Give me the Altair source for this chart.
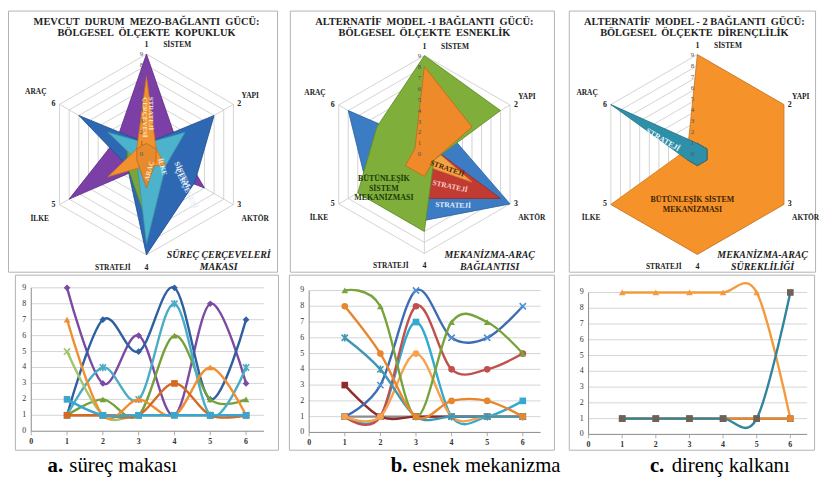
import altair as alt
import pandas as pd

FONT = "Liberation Serif"
NB = "\u00a0"

# ---------------- data ----------------
AXES = ["SİSTEM", "YAPI", "AKTÖR", "STRATEJİ", "İLKE", "ARAÇ"]
AXIS_NUMBERS = ["1", "2", "3", "4", "5", "6"]
SCALE_TICKS = [0, 1, 2, 3, 4, 5, 6, 7, 8, 9]
RING_LEVELS = [1, 2, 3, 4, 5, 6, 7, 8, 9]
X_TICKS = [0, 1, 2, 3, 4, 5, 6]

# a. süreç makası
A_NAMES = ["gri", "mor", "lacivert", "yeşil", "turkuaz", "açık yeşil", "turuncu", "koyu turuncu", "açık mavi"]
A_GRI = [1, 1, 1, 1, 1, 1]
A_MOR = [9, 3, 6, 1, 8, 3]
A_LACIVERT = [1, 7, 5, 9, 2, 7]
A_YESIL = [1, 2, 1, 6, 2, 2]
A_TURKUAZ = [1, 4, 2, 8, 1, 4]
A_ACIK_YESIL = [5, 1, 1, 1, 1, 1]
A_TURUNCU = [7, 1, 2, 1, 4, 1]
A_KOYU_TURUNCU = [1, 1, 1, 3, 1, 1]
A_ACIK_MAVI = [2, 1, 1, 1, 1, 1]
A_VALUES = [A_GRI, A_MOR, A_LACIVERT, A_YESIL, A_TURKUAZ, A_ACIK_YESIL, A_TURUNCU, A_KOYU_TURUNCU, A_ACIK_MAVI]

# b. esnek mekanizma
B_NAMES = ["gri", "bordo", "camgöbeği", "mavi", "kırmızı", "açık turuncu", "turkuaz", "yeşil", "turuncu"]
B_GRI = [1, 1, 1, 1, 1, 1]
B_BORDO = [3, 1, 1, 1, 1, 1]
B_CAMGOBEGI = [1, 1, 7, 1, 1, 2]
B_MAVI = [1, 3, 9, 6, 6, 8]
B_KIRMIZI = [1, 1, 8, 4, 4, 5]
B_ACIK_TURUNCU = [1, 1, 5, 1, 1, 1]
B_TURKUAZ = [6, 4, 1, 1, 1, 1]
B_YESIL = [9, 8, 1, 7, 7, 5]
B_TURUNCU = [8, 5, 1, 2, 2, 1]
B_VALUES = [B_GRI, B_BORDO, B_CAMGOBEGI, B_MAVI, B_KIRMIZI, B_ACIK_TURUNCU, B_TURKUAZ, B_YESIL, B_TURUNCU]

# c. direnç kalkanı
C_NAMES = ["turuncu", "kahverengi", "daire", "turkuaz"]
C_TURUNCU = [9, 9, 9, 9, 9, 1]
C_KAHVERENGI = [1, 1, 1, 1, 1, 1]
C_DAIRE = [1, 1, 1, 1, 1, 1]
C_TURKUAZ = [1, 1, 1, 1, 1, 9]
C_VALUES = [C_TURUNCU, C_KAHVERENGI, C_DAIRE, C_TURKUAZ]


def long_df(names, values):
    rows = []
    for n, vals in zip(names, values):
        for i, v in enumerate(vals):
            rows.append({"seri": n, "i": i, "x": i + 1, "v": v})
    return pd.DataFrame(rows)


ONE = pd.DataFrame({"k": [0]})
POLAR = dict(px="datum.v * sin(datum.i * PI / 3)", py="datum.v * cos(datum.i * PI / 3)")

NUM_OFF = [(0, -9), (6, 0), (6, 0), (0, 13), (-6, 0), (-6, 0)]
NAME_OFF = [(31, -9), (17, -8), (22, 14), (-34, 13), (-20, 14), (-24, -12)]


def box_layer(x1, x2, y1, y2):
    return alt.Chart(ONE).mark_rect(fill="white", stroke="#b3b3b3", strokeWidth=1).encode(
        x=alt.value(x1), x2=alt.value(x2), y=alt.value(y1), y2=alt.value(y2))


def text_layer(t, x, y, size=8, weight="bold", color="#222", angle=0, style="normal", align="center",
               baseline="middle"):
    return alt.Chart(ONE).mark_text(text=t, font=FONT, fontSize=size, fontWeight=weight, color=color,
                                    angle=angle, fontStyle=style, align=align, baseline=baseline).encode(
        x=alt.value(x), y=alt.value(y))


def radar_panel(df, order, fills, strokes, W, H, cx, cy, R, box, titles, tx, corner, corner_x, inner):
    sx = alt.Scale(domain=[-9, 9], range=[cx - R, cx + R], nice=False, zero=False)
    sy = alt.Scale(domain=[-9, 9], range=[cy + R, cy - R], nice=False, zero=False)
    X = alt.X("px:Q", scale=sx, axis=None)
    Y = alt.Y("py:Q", scale=sy, axis=None)
    layers = [box_layer(*box)]
    rings = pd.DataFrame([{"lvl": l, "i": i, "v": l} for l in RING_LEVELS for i in range(6)])
    layers.append(alt.Chart(rings).transform_calculate(**POLAR).mark_line(
        stroke="#c8c8c8", strokeWidth=0.8, interpolate="linear-closed").encode(X, Y, detail="lvl:N", order="i:Q"))
    spokes = pd.DataFrame({"i": list(range(6)), "v": [9] * 6})
    layers.append(alt.Chart(spokes).transform_calculate(zero="0", **POLAR).mark_rule(
        color="#c8c8c8", strokeWidth=0.8).encode(
        x=alt.X("zero:Q", scale=sx, axis=None), y=alt.Y("zero:Q", scale=sy, axis=None),
        x2="px:Q", y2="py:Q"))
    for n in order:
        layers.append(alt.Chart(df).transform_filter(alt.datum.seri == n).transform_calculate(**POLAR).mark_line(
            fill=fills[n], stroke=strokes[n], strokeWidth=0.8, interpolate="linear-closed",
            strokeJoin="miter").encode(X, Y, order="i:Q"))
    ticks = pd.DataFrame({"v": SCALE_TICKS, "i": [0] * len(SCALE_TICKS)})
    layers.append(alt.Chart(ticks).transform_calculate(**POLAR).mark_text(
        font=FONT, fontSize=7, color="#555", dx=-5).encode(X, Y, text="v:Q"))
    for i in range(6):
        d = pd.DataFrame({"i": [i], "v": [9], "num": [AXIS_NUMBERS[i]], "name": [AXES[i]]})
        base = alt.Chart(d).transform_calculate(**POLAR)
        layers.append(base.mark_text(font=FONT, fontSize=8, fontWeight="bold", color="#222",
                                     dx=NUM_OFF[i][0], dy=NUM_OFF[i][1]).encode(X, Y, text="num:N"))
        layers.append(base.mark_text(font=FONT, fontSize=7.5, fontWeight="bold", color="#222",
                                     dx=NAME_OFF[i][0], dy=NAME_OFF[i][1]).encode(X, Y, text="name:N"))
    layers.append(text_layer(titles[0], tx, 12, size=10.5))
    layers.append(text_layer(titles[1], tx, 22.5, size=10.5))
    layers.append(text_layer(corner[0], corner_x, 247, size=10, style="italic"))
    layers.append(text_layer(corner[1], corner_x, 259, size=10, style="italic"))
    for (t, x, y, ang, col, sz) in inner:
        layers.append(text_layer(t, x, y, size=sz, color=col, angle=ang))
    return alt.layer(*layers).properties(width=W, height=H)


def line_panel(df, order, colors, marker_colors, shapes, W, H, xr, yr, box, cap_b, cap_r, cap_x, cap_gap):
    XMAX = 6.5
    sx = alt.Scale(domain=[0, XMAX], range=list(xr), nice=False, zero=False)
    sy = alt.Scale(domain=[0, 9], range=list(yr), nice=False, zero=False)
    layers = [box_layer(*box)]
    grid = pd.DataFrame({"v": RING_LEVELS})
    layers.append(alt.Chart(grid).transform_calculate(a="0", b=str(XMAX)).mark_rule(
        color="#d4d4d4", strokeWidth=1).encode(
        y=alt.Y("v:Q", scale=sy, axis=None), x=alt.X("a:Q", scale=sx, axis=None), x2="b:Q"))
    layers.append(alt.Chart(ONE).transform_calculate(a="0", b="9").mark_rule(color="#8a8a8a").encode(
        x=alt.X("k:Q", scale=sx, axis=None), y=alt.Y("k:Q", scale=sy, axis=None), y2="b:Q"))
    layers.append(alt.Chart(ONE).transform_calculate(b=str(XMAX)).mark_rule(color="#8a8a8a").encode(
        x=alt.X("k:Q", scale=sx, axis=None), y=alt.Y("k:Q", scale=sy, axis=None), x2="b:Q"))
    xt = pd.DataFrame({"x": X_TICKS, "y": [0] * len(X_TICKS)})
    layers.append(alt.Chart(xt).mark_tick(color="#8a8a8a", size=4, thickness=1, orient="vertical", yOffset=2).encode(
        x=alt.X("x:Q", scale=sx, axis=None), y=alt.Y("y:Q", scale=sy, axis=None)))
    layers.append(alt.Chart(xt).mark_text(font=FONT, fontSize=8, fontWeight="bold", color="#333", dy=11).encode(
        x=alt.X("x:Q", scale=sx, axis=None), y=alt.Y("y:Q", scale=sy, axis=None), text="x:Q"))
    yt = pd.DataFrame({"v": SCALE_TICKS, "x": [0] * len(SCALE_TICKS)})
    layers.append(alt.Chart(yt).mark_text(font=FONT, fontSize=8, color="#333", dx=-7).encode(
        x=alt.X("x:Q", scale=sx, axis=None), y=alt.Y("v:Q", scale=sy, axis=None), text="v:Q"))
    for n in order:
        c = colors[n]
        layers.append(alt.Chart(df).transform_filter(alt.datum.seri == n).mark_line(
            color=c, strokeWidth=2.4, interpolate="cardinal", tension=0).encode(
            x=alt.X("x:Q", scale=sx, axis=None), y=alt.Y("v:Q", scale=sy, axis=None), order="x:Q"))
        shp = shapes[n]
        filled = shp in ("circle", "square", "diamond", "triangle-up")
        layers.append(alt.Chart(df).transform_filter(alt.datum.seri == n).mark_point(
            shape=shp, filled=filled, color=marker_colors.get(n, c), size=45 if filled else 40, opacity=1,
            strokeWidth=1.6).encode(
            x=alt.X("x:Q", scale=sx, axis=None), y=alt.Y("v:Q", scale=sy, axis=None)))
    layers.append(text_layer(cap_b, cap_x, 202, size=21, align="left", color="#000", baseline="alphabetic"))
    layers.append(text_layer(cap_r, cap_x + cap_gap, 202, size=21, weight="normal", align="left", color="#000",
                             baseline="alphabetic"))
    return alt.layer(*layers).properties(width=W, height=H)


XM = "M-1,-1L1,1M-1,1L1,-1"
AST = "M-1,-1L1,1M-1,1L1,-1M0,-1.2L0,1.2"

TOP_H = 265
BOT_H = 208

# ---- column a ----
dfa = long_df(A_NAMES, A_VALUES)
a_fill = {"gri": "#9a9a9a", "mor": "#7b3fa5", "lacivert": "#2f68b2", "yeşil": "#78a53c", "turkuaz": "#4db3cc",
          "açık yeşil": "#9bbb59", "turuncu": "#f2922e", "koyu turuncu": "#e68a2e", "açık mavi": "#4bacc6"}
a_stroke = {"gri": "#7a7a7a", "mor": "#5e2a85", "lacivert": "#1f4d8c", "yeşil": "#5a8228", "turkuaz": "#3a93aa",
            "açık yeşil": "#7e9c44", "turuncu": "#c8731c", "koyu turuncu": "#b86a1e", "açık mavi": "#3a93aa"}
a_line = {"gri": "#8c8c8c", "mor": "#7b4aa3", "lacivert": "#2e5f9f", "yeşil": "#76a13a", "turkuaz": "#4aacc5",
          "açık yeşil": "#a4c46a", "turuncu": "#f28e32", "koyu turuncu": "#d46a22", "açık mavi": "#38a6d0"}
a_shape = {"gri": "circle", "mor": "diamond", "lacivert": "diamond", "yeşil": "triangle-up", "turkuaz": AST,
           "açık yeşil": XM, "turuncu": "triangle-up", "koyu turuncu": "square", "açık mavi": "square"}
a_radar_order = ["gri", "mor", "lacivert", "yeşil", "açık mavi", "turkuaz", "açık yeşil", "turuncu", "koyu turuncu"]
a_inner = [
    ("STRATEJİ", 145, 104, 90, "#f7e6cc", 7),
    ("ÇERÇEVESİ", 138, 108, 90, "#f7e6cc", 7),
    ("ARAÇ", 143, 162, 285, "#fbe3c8", 7),
    ("İLKE", 156, 158, 75, "#d9f1f8", 7),
    ("SİSTEM", 176, 166, 65, "#e3ecf8", 7.5),
    ("ÇERÇEVESİ", 180, 180, 65, "#e3ecf8", 7.5),
]
radar_a = radar_panel(dfa, a_radar_order, a_fill, a_stroke, 279, TOP_H, 140, 145.5, 101.5,
                      (0.5, 272.5, 0.5, 264.5),
                      (f"MEVCUT {NB}DURUM {NB}MEZO-BAĞLANTI {NB}GÜCÜ:", f"BÖLGESEL {NB}ÖLÇEKTE {NB}KOPUKLUK"), 140,
                      ("SÜREÇ ÇERÇEVELERİ", "MAKASI"), 213, a_inner)
line_a = line_panel(dfa, A_NAMES, a_line, {}, a_shape, 279, BOT_H, (23.5, 258.8), (160.3, 15.3),
                    (7.5, 273.5, 2.5, 179.5), "a.", "süreç makası", 40, 22)

# ---- column b ----
dfb = long_df(B_NAMES, B_VALUES)
b_fill = {"camgöbeği": "#3aa6c9", "mavi": "#3b7cc4", "kırmızı": "#c23b33", "açık turuncu": "#f6a346",
          "turkuaz": "#4bacc6", "yeşil": "#7fae3b", "turuncu": "#ee8a2a", "bordo": "#8b2e2e", "gri": "#9a9a9a"}
b_stroke = {"camgöbeği": "#2a85a5", "mavi": "#2a5e9c", "kırmızı": "#952a24", "açık turuncu": "#cf8232",
            "turkuaz": "#3a93aa", "yeşil": "#5d8a26", "turuncu": "#c2691a", "bordo": "#6a2020", "gri": "#777"}
b_line = {"camgöbeği": "#31a9d0", "mavi": "#3d6cb3", "kırmızı": "#c0504d", "açık turuncu": "#f8a04a",
          "turkuaz": "#3f97b5", "yeşil": "#77a33a", "turuncu": "#e8862e", "bordo": "#8e2b2b", "gri": "#8c8c8c"}
b_marker = {"mavi": "#4f8fd6"}
b_shape = {"camgöbeği": "square", "mavi": XM, "kırmızı": "circle", "açık turuncu": "circle",
           "turkuaz": AST, "yeşil": "triangle-up", "turuncu": "circle", "bordo": "square", "gri": "circle"}
b_inner = [
    ("STRATEJİ", 165, 160, 20, "#4a2200", 7.5),
    ("STRATEJİ", 168, 178, 12, "#f6cdc8", 7.5),
    ("STRATEJİ", 171, 197, 2, "#e6effa", 7.5),
    ("BÜTÜNLEŞİK", 101, 170, 0, "#1c3a0a", 8),
    ("SİSTEM", 101, 180, 0, "#1c3a0a", 8),
    ("MEKANİZMASI", 101, 190, 0, "#1c3a0a", 8),
]
radar_b = radar_panel(dfb, B_NAMES, b_fill, b_stroke, 281, TOP_H, 142, 145.5, 100,
                      (6.5, 273.5, 0.5, 264.5),
                      (f"ALTERNATİF {NB}MODEL -1 BAĞLANTI {NB}GÜCÜ:", f"BÖLGESEL {NB}ÖLÇEKTE {NB}ESNEKLİK"), 142,
                      ("MEKANİZMA-ARAÇ", "BAĞLANTISI"), 208, b_inner)
line_b = line_panel(dfb, B_NAMES, b_line, b_marker, b_shape, 281, BOT_H, (25.5, 259.5), (161.5, 18),
                    (5.5, 273.5, 2.5, 179.5), "b.", "esnek mekanizma", 108, 22)

# ---- column c ----
dfc = long_df(C_NAMES, C_VALUES)
c_fill = {"turuncu": "#f5922a", "kahverengi": "#b8742e", "daire": "#e8862e", "turkuaz": "#2e8fa8"}
c_stroke = {"turuncu": "#c9731c", "kahverengi": "#5a4028", "daire": "#8a5a2a", "turkuaz": "#1f6d82"}
c_line = {"turuncu": "#f39a3c", "kahverengi": "#7d6a5a", "daire": "#e8862e", "turkuaz": "#31849b"}
c_marker = {"turkuaz": "#6e6258", "kahverengi": "#7d6a5a"}
c_shape = {"turuncu": "triangle-up", "kahverengi": "square", "daire": "circle", "turkuaz": "square"}
c_inner = [
    ("STRATEJİ", 102, 131, 30, "#e8f6fa", 8),
    ("BÜTÜNLEŞİK  SİSTEM", 132, 192, 0, "#3d2200", 8),
    ("MEKANİZMASI", 132, 202, 0, "#3d2200", 8),
]
radar_c = radar_panel(dfc, C_NAMES, c_fill, c_stroke, 258, TOP_H, 137, 145.5, 101,
                      (7.5, 256.5, 0.5, 264.5),
                      (f"ALTERNATİF {NB}MODEL - 2 BAĞLANTI {NB}GÜCÜ:", f"BÖLGESEL {NB}ÖLÇEKTE {NB}DİRENÇLİLİK"), 134,
                      ("MEKANİZMA-ARAÇ", "SÜREKLİLİĞİ"), 203, c_inner)
line_c = line_panel(dfc, C_NAMES, c_line, c_marker, c_shape, 258, BOT_H, (27, 248), (163.5, 20),
                    (7.5, 255.5, 2.5, 179.5), "c.", "direnç kalkanı", 89, 22)

col_a = alt.vconcat(radar_a, line_a, spacing=0)
col_b = alt.vconcat(radar_b, line_b, spacing=0)
col_c = alt.vconcat(radar_c, line_c, spacing=0)

chart = alt.hconcat(col_a, col_b, col_c, spacing=0).properties(
    padding=0, background="white"
).configure_view(stroke=None)

chart.save("out.html", embed_options={"renderer": "svg", "actions": False})
